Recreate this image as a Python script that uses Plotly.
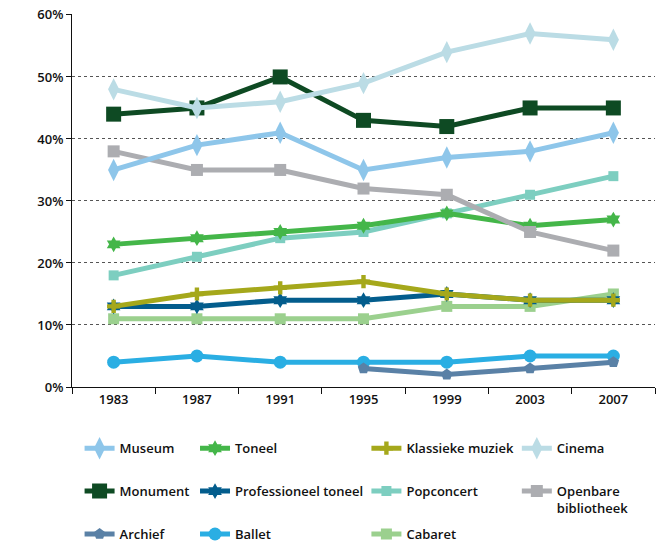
import plotly.graph_objects as go

years = ["1983", "1987", "1991", "1995", "1999", "2003", "2007"]

museum = [35, 39, 41, 35, 37, 38, 41]
cinema = [48, 45, 46, 49, 54, 57, 56]
monument = [44, 45, 50, 43, 42, 45, 45]
bibliotheek = [38, 35, 35, 32, 31, 25, 22]
popconcert = [18, 21, 24, 25, 28, 31, 34]
toneel = [23, 24, 25, 26, 28, 26, 27]
klassiek = [13, 15, 16, 17, 15, 14, 14]
prof_toneel = [13, 13, 14, 14, 15, 14, 14]
cabaret = [11, 11, 11, 11, 13, 13, 15]
ballet = [4, 5, 4, 4, 4, 5, 5]
archief = [None, None, None, 3, 2, 3, 4]

y_ticks = [0, 10, 20, 30, 40, 50, 60]
y_labels = ["0%", "10%", "20%", "30%", "40%", "50%", "60%"]

# name, values, color, symbol, size, legend, rank  (drawing order bottom -> top)
series = [
    ("Ballet", ballet, "#2AAEE3", "circle", 13, "legend2", 3),
    ("Archief", archief, "#5A81A6", "pentagon", 12, "legend", 3),
    ("Cabaret", cabaret, "#9BD08E", "square", 11, "legend3", 3),
    ("Professioneel toneel", prof_toneel, "#035D8D", "hexagram", 12, "legend2", 2),
    ("Klassieke muziek", klassiek, "#A5A81B", "cross", 11, "legend3", 1),
    ("Popconcert", popconcert, "#7DCEC0", "square", 10, "legend3", 2),
    ("Toneel", toneel, "#44B649", "hexagram", 12, "legend2", 1),
    ("Openbare<br>bibliotheek", bibliotheek, "#ACADB1", "square", 12, "legend4", 2),
    ("Museum", museum, "#8EC6EA", "diamond-tall", 16, "legend", 1),
    ("Monument", monument, "#0E4A23", "square", 15, "legend", 2),
    ("Cinema", cinema, "#BBDCE5", "diamond-tall", 16, "legend4", 1),
]

fig = go.Figure()
for name, vals, color, sym, size, leg, rank in series:
    fig.add_trace(go.Scatter(
        x=years, y=vals, name=name, mode="lines+markers",
        line=dict(color=color, width=5),
        marker=dict(color=color, symbol=sym, size=size, line=dict(width=0)),
        legend=leg, legendrank=rank, legendgroup=name, connectgaps=False,
    ))

font_fam = "Open Sans, Lato, sans-serif"
leg_common = dict(
    orientation="v", yanchor="top", y=-0.124, xanchor="left",
    font=dict(family=font_fam, size=13, color="#111", weight=600),
    tracegroupgap=23, itemwidth=30, bgcolor="rgba(0,0,0,0)", valign="top",
)

fig.update_layout(
    width=664, height=548,
    margin=dict(l=64, r=17, t=6, b=169, autoexpand=False),
    paper_bgcolor="white", plot_bgcolor="white",
    font=dict(family=font_fam, size=13, color="#111"),
    showlegend=True,
    legend=dict(x=0.013, **leg_common),
    legend2=dict(x=0.211, **leg_common),
    legend3=dict(x=0.505, **leg_common),
    legend4=dict(x=0.763, **leg_common),
    xaxis=dict(
        type="category", range=[-0.5, 6.5], tickson="boundaries",
        ticks="outside", ticklen=6, tickcolor="#111", tickwidth=1,
        showline=True, linecolor="#111", linewidth=1,
        showgrid=False, tickfont=dict(size=13, weight=600),
    ),
    yaxis=dict(
        range=[0, 60.15], tickvals=y_ticks, ticktext=y_labels,
        ticks="outside", ticklen=5, tickcolor="#111", tickwidth=1,
        showline=True, linecolor="#111", linewidth=1,
        showgrid=True, gridcolor="#555", griddash="dot", gridwidth=1,
        zeroline=False, tickfont=dict(size=13, weight=600),
        ticklabeloverflow="allow",
    ),
)

fig.write_html("out.html")
